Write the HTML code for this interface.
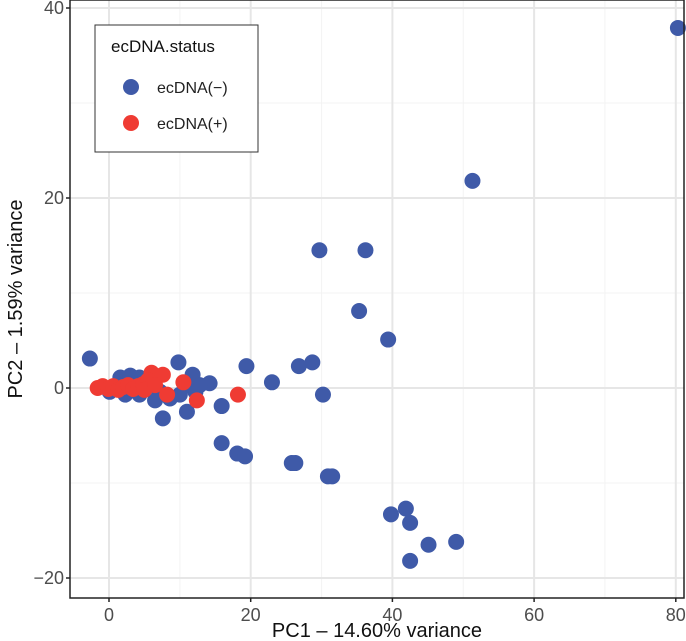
<!DOCTYPE html>
<html><head><meta charset="utf-8"><style>
html,body{margin:0;padding:0;background:#fff;}
svg{display:block;font-family:"Liberation Sans",sans-serif;}
</style></head><body>
<svg id="chart" width="686" height="641"></svg>
<script>
const blueX=[80.3,51.3,29.7,36.2,35.3,39.4,19.4,28.7,26.8,23.0,30.2,15.9,7.6,18.1,19.2,15.9,25.8,26.3,30.9,31.5,39.8,41.9,42.5,42.5,45.1,49.0,-2.7,9.8,11.0,14.2,11.8,1.6,3.0,4.3,5.8,7.2,8.6,10.0,12.2,12.8,4.3,2.3,0.1,6.5,10.8];
const blueY=[37.9,21.8,14.5,14.5,8.1,5.1,2.3,2.7,2.3,0.6,-0.7,-1.9,-3.2,-6.9,-7.2,-5.8,-7.9,-7.9,-9.3,-9.3,-13.3,-12.7,-14.2,-18.2,-16.5,-16.2,3.1,2.7,-2.5,0.5,1.4,1.1,1.3,1.1,0.3,-0.4,-1.1,-0.7,-0.4,0.3,-0.7,-0.7,-0.4,-1.3,0.3];
const redX=[6.0,7.6,10.5,8.2,12.4,18.2,-1.6,-0.9,-0.1,0.6,1.3,2.0,2.7,3.4,4.1,4.8,5.5,5.0,6.5];
const redY=[1.6,1.4,0.6,-0.7,-1.3,-0.7,0,0.2,-0.1,0.2,-0.2,0.1,0.3,-0.1,0.2,0.4,0.8,-0.2,0.3];
const xTicks=[0,20,40,60,80];
const yTicks=[-20,0,20,40];
const xMinor=[10,30,50,70];
const yMinor=[-10,10,30];

const svg=document.getElementById('chart');
const NS='http://www.w3.org/2000/svg';
const L=70,R=684,T=0,B=598;
const sx=v=>109+v*7.085;
const sy=v=>388-v*9.5;
function mk(tag,attrs,parent){const e=document.createElementNS(NS,tag);for(const k in attrs)e.setAttribute(k,attrs[k]);(parent||svg).appendChild(e);return e;}

const grid=mk('g',{});


xMinor.forEach(v=>mk('line',{x1:sx(v),x2:sx(v),y1:T,y2:B,stroke:'#f3f3f3','stroke-width':1},grid));
yMinor.forEach(v=>mk('line',{x1:L,x2:R,y1:sy(v),y2:sy(v),stroke:'#f3f3f3','stroke-width':1},grid));
xTicks.forEach(v=>mk('line',{x1:sx(v),x2:sx(v),y1:T,y2:B,stroke:'#e6e6e6','stroke-width':2},grid));
yTicks.forEach(v=>mk('line',{x1:L,x2:R,y1:sy(v),y2:sy(v),stroke:'#e6e6e6','stroke-width':2},grid));

const pts=mk('g',{});


blueX.forEach((x,i)=>{const c=mk('circle',{cx:sx(x),cy:sy(blueY[i]),r:8,fill:'#3f5aa8'},pts);

});
redX.forEach((x,i)=>{const c=mk('circle',{cx:sx(x),cy:sy(redY[i]),r:8,fill:'#ef3b33'},pts);

});

const frame=mk('rect',{x:L,y:T,width:R-L,height:B-T,fill:'none',stroke:'#222','stroke-width':1.5});



xTicks.forEach(v=>{mk('line',{x1:sx(v),x2:sx(v),y1:B,y2:B+4,stroke:'#222','stroke-width':1.5});
const t=mk('text',{x:sx(v),y:B+23,'text-anchor':'middle','font-size':18,fill:'#4d4d4d'});t.textContent=v;

});
yTicks.forEach(v=>{mk('line',{x1:L-4,x2:L,y1:sy(v),y2:sy(v),stroke:'#222','stroke-width':1.5});
const t=mk('text',{x:L-6,y:sy(v)+6,'text-anchor':'end','font-size':18,fill:'#4d4d4d'});t.textContent=v===-20?'\u221220':v;

});
</script>
<svg width="686" height="641" style="position:absolute;left:0;top:0;font-family:'Liberation Sans',sans-serif;">
<text x="377" y="637" text-anchor="middle" font-size="20" fill="#111">PC1 – 14.60% variance</text>
<text transform="translate(22,299) rotate(-90)" text-anchor="middle" font-size="20" fill="#111">PC2 – 1.59% variance</text>
<g>
<rect x="95" y="25" width="163" height="127" fill="#fff" stroke="#333" stroke-width="1"/>
<text x="111" y="52" font-size="17" fill="#111">ecDNA.status</text>
<g><circle cx="131" cy="87" r="8" fill="#3f5aa8"/><text x="157" y="93" font-size="16" fill="#222">ecDNA(−)</text></g>
<g><circle cx="131" cy="123" r="8" fill="#ef3b33"/><text x="157" y="129" font-size="16" fill="#222">ecDNA(+)</text></g>
</g>
</svg>
</body></html>
